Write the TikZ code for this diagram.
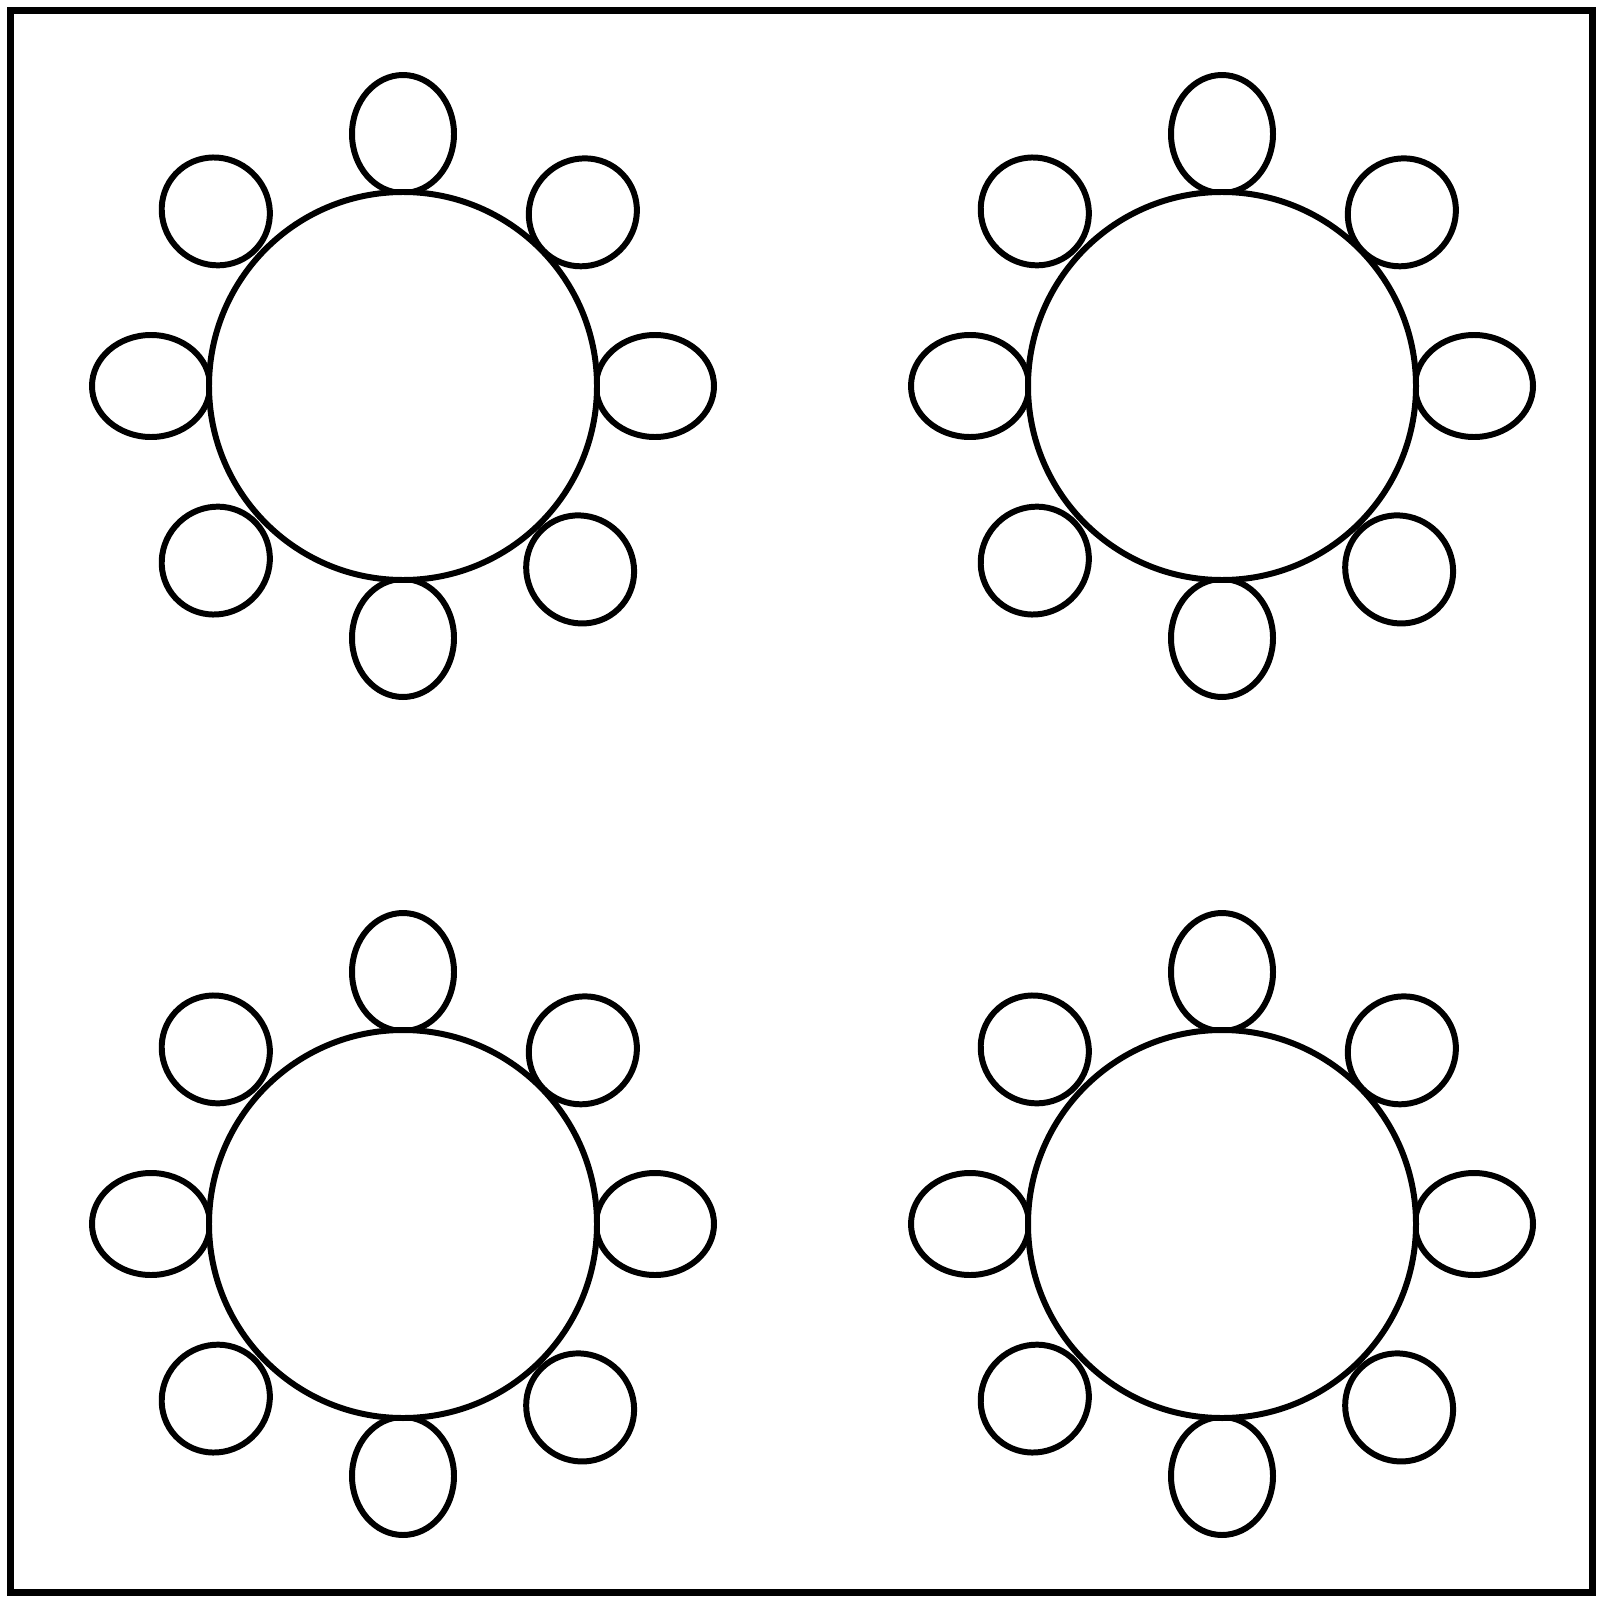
\documentclass[tikz,border=0pt]{standalone}
\begin{document}
\begin{tikzpicture}[x=0.01cm, y=-0.01cm,
        seat/.style={draw, line width=1.7pt},
        tabletop/.style={draw, fill=white, line width=1.7pt}]
            \useasboundingbox (0,0) rectangle (1600,1600);

            % room outline
            \draw [line width=2pt]
                (10.5,10.5) rectangle (1592,1592);

            % four round tables with eight seats each
            \foreach \cx/\cy in {403/386, 1222/386, 403/1224, 1222/1224} {
                \foreach \a/\d/\rx/\ry in {0/252/59/51, 44/250/55/53, 90/252/59/51, 137/256/55/53,
                                        180/252/59/51, 223/256/55/53, 270/252/59/51, 314/255/55/53} {
                    \begin{scope}[shift={(\cx,\cy)}, rotate=\a]
                        \draw [seat] (\d,0) ellipse [x radius=\rx, y radius=\ry];
                    \end{scope}
                }
                \draw [tabletop] (\cx,\cy) circle [radius=194];
            }
        \end{tikzpicture}
\end{document}
